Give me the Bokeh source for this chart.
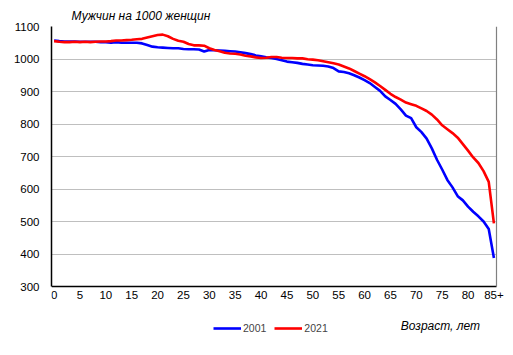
from bokeh.plotting import figure
from bokeh.models import (Range1d, FixedTicker, Legend, LegendItem, ColumnDataSource,
                          Title, Label, LinearAxis)
from bokeh.embed import file_html
from bokeh.resources import INLINE

ages = list(range(0, 86))
tick_ages = list(range(0, 86, 5))
tick_labels = [str(a) for a in tick_ages[:-1]] + ["85+"]
y_ticks = list(range(300, 1101, 100))

men_per_1000_2001 = [
    1057, 1055, 1054, 1054, 1054, 1053, 1053, 1053, 1053, 1052,
    1052, 1050, 1052, 1050, 1050, 1050, 1050, 1048, 1043, 1038,
    1036, 1035, 1034, 1033, 1033, 1031, 1030, 1030, 1029, 1023,
    1028, 1027, 1026, 1025, 1024, 1023, 1021, 1018, 1015, 1011,
    1008, 1005, 1003, 1000, 996, 992, 990, 988, 985, 983,
    981, 980, 979, 977, 972, 962, 960, 956, 950, 943,
    935, 926, 914, 902, 885, 874, 862, 845, 826, 818,
    790, 775, 755, 725, 690, 660, 628, 605, 578, 565,
    546, 530, 516, 500, 477, 388]

men_per_1000_2021 = [
    1055, 1053, 1052, 1052, 1053, 1052, 1053, 1052, 1053, 1054,
    1054, 1055, 1057, 1057, 1058, 1059, 1061, 1062, 1066, 1070,
    1074, 1075, 1070, 1062, 1056, 1053, 1046, 1042, 1042, 1041,
    1033, 1028, 1024, 1019, 1017, 1016, 1014, 1010, 1008, 1005,
    1003, 1004, 1006, 1006, 1004, 1003, 1003, 1002, 1002, 999,
    998, 996, 993, 990, 987, 983, 977, 971, 963, 955,
    947, 938, 928, 917, 905, 893, 883, 875, 866, 861,
    856, 848, 840, 829, 814, 796, 784, 772, 758, 738,
    718, 697, 680, 655, 622, 494]

series_names = ["2001", "2021"]
title_text = "Мужчин на 1000 женщин"
x_title = "Возраст, лет"

FONT = "Liberation Sans"
Y_MIN, Y_MAX = 300, 1100
X_MIN, X_MAX = -0.5, 85.5
FRAME_H = 310
FRAME_W = 457
PX_PER_UNIT = 260 / (Y_MAX - Y_MIN)          # 800 units span 260 px
PX_PER_AGE = 445 / (X_MAX - X_MIN)            # 86 categories span 445 px
y_start = Y_MAX - FRAME_H / PX_PER_UNIT        # room below the axis for the legend row
x_end = X_MIN + FRAME_W / PX_PER_AGE           # room right of the plot for the "85+" label

p = figure(frame_width=FRAME_W, frame_height=FRAME_H, output_backend="svg", toolbar_location=None,
           x_range=Range1d(X_MIN, x_end), y_range=Range1d(y_start, Y_MAX),
           min_border_left=51, min_border_right=0, min_border_top=26, min_border_bottom=0)

p.outline_line_color = None
p.xgrid.visible = False
p.ygrid.grid_line_color = "#BFBFBF"
p.ygrid.grid_line_width = 1.2
p.ygrid.ticker = FixedTicker(ticks=y_ticks)
p.ygrid.cross_bounds = (X_MIN, X_MAX)

p.xaxis.ticker = FixedTicker(ticks=tick_ages)
p.xaxis.major_label_overrides = {a: l for a, l in zip(tick_ages, tick_labels)}
p.xaxis.fixed_location = Y_MIN
p.xaxis.bounds = (X_MIN, X_MAX)
p.yaxis.ticker = FixedTicker(ticks=y_ticks)
p.yaxis.bounds = (Y_MIN, Y_MAX)
for ax in (p.xaxis, p.yaxis):
    ax.axis_line_color = "black"
    ax.axis_line_width = 1.5
    ax.major_tick_line_color = None
    ax.minor_tick_line_color = None
    ax.major_tick_out = 0
    ax.major_tick_in = 0
    ax.major_label_text_font = FONT
    ax.major_label_text_font_size = "11.5px"
    ax.major_label_text_color = "black"
p.yaxis.major_label_standoff = 12
p.xaxis.major_label_standoff = 4

right_axis = LinearAxis(ticker=FixedTicker(ticks=y_ticks), bounds=(Y_MIN, Y_MAX),
                        fixed_location=X_MAX,
                        axis_line_color="#808080", axis_line_width=1.2,
                        major_tick_line_color=None, minor_tick_line_color=None,
                        major_tick_out=0, major_tick_in=0, minor_tick_out=0,
                        major_label_text_alpha=0, major_label_text_font_size="1px",
                        major_label_standoff=0)
p.add_layout(right_axis, "right")

src = ColumnDataSource(dict(age=ages, a=men_per_1000_2001, b=men_per_1000_2021))
r1 = p.line("age", "a", source=src, line_color="#0000FF", line_width=2.6)
r2 = p.line("age", "b", source=src, line_color="#FF0000", line_width=2.6)

p.add_layout(Title(text=title_text, align="left", offset=20, standoff=7,
                   text_font=FONT, text_font_style="italic", text_font_size="12px",
                   text_color="black"), "above")

p.add_layout(Label(x=67.0, y=180, text=x_title, text_align="left", text_baseline="middle",
                   text_font=FONT, text_font_style="italic", text_font_size="12px",
                   text_color="black"))

legend = Legend(items=[LegendItem(label=series_names[0], renderers=[r1]),
                       LegendItem(label=series_names[1], renderers=[r2])],
                location=(162, 1), orientation="horizontal",
                glyph_width=28, glyph_height=14, label_standoff=2, spacing=8,
                padding=0, margin=0, border_line_color=None, background_fill_alpha=0,
                label_text_font=FONT, label_text_font_size="10.5px",
                label_height=14)
p.add_layout(legend, "center")

open("out.html", "w").write(file_html(p, INLINE))
